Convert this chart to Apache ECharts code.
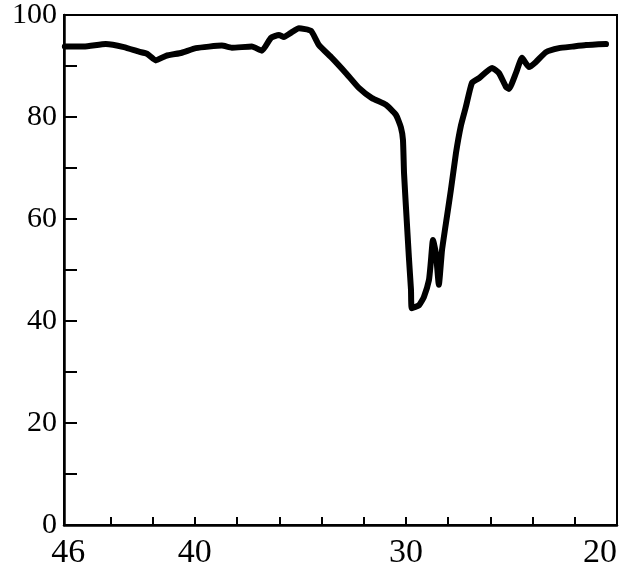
<!DOCTYPE html>
<html>
<head>
<meta charset="utf-8">
<script src="https://cdn.jsdelivr.net/npm/echarts@6/dist/echarts.min.js"></script>
<style>html,body{margin:0;padding:0;background:#fff;}#c{width:635px;height:586px;}</style>
</head>
<body>
<div id="c"></div>
<script>
const xValues = [46.16,45.26,44.22,43.36,42.65,42.27,41.85,41.37,40.62,39.95,38.72,38.25,37.30,36.82,36.40,36.02,35.78,35.45,35.07,34.50,34.12,33.51,32.84,32.23,31.61,30.95,30.47,30.24,30.14,30.09,30.00,29.86,29.76,29.72,29.38,29.15,28.91,28.82,28.72,28.58,28.44,28.29,28.06,27.87,27.63,27.39,27.16,26.87,26.54,25.92,25.59,25.26,25.12,24.79,24.50,24.17,23.84,23.37,22.75,22.13,21.47,20.52];
const yValues = [93.8,93.8,94.3,93.7,92.8,92.4,91.1,92.0,92.6,93.5,94.0,93.6,93.8,93.0,95.5,96.1,95.7,96.5,97.4,96.9,94.1,91.6,88.6,85.7,83.7,82.4,80.4,78.0,75.5,69.0,62.4,52.5,46.1,42.5,43.1,44.7,48.0,51.6,55.9,53.3,47.1,53.9,60.4,65.7,72.9,78.4,82.0,86.7,87.6,89.6,88.6,85.9,85.5,88.6,91.6,89.8,90.8,92.7,93.5,93.8,94.1,94.3];
const xLabelValues = [46, 40, 30, 20];
const xTickValues = [44, 42, 40, 38, 36, 34, 32, 30, 28, 26, 24, 22];
const yLabelStep = 20;

const seriesData = xValues.map((x, i) => [x, yValues[i]]);
const chart = echarts.init(document.getElementById('c'), null, {renderer: 'canvas'});
chart.setOption({
  animation: false,
  backgroundColor: '#fff',
  grid: {left: 64, right: 18, top: 15, bottom: 61, show: true, borderColor: '#000', borderWidth: 2, backgroundColor: 'transparent'},
  xAxis: {
    type: 'value', min: 20, max: 46.2, inverse: true,
    axisLine: {show: true, onZero: false, lineStyle: {color: '#000', width: 2.5}},
    axisTick: {show: true, inside: true, length: 8, customValues: xTickValues, lineStyle: {color: '#000', width: 2}},
    axisLabel: {customValues: xLabelValues, color: '#000', fontFamily: 'Liberation Serif', fontSize: 34, margin: 11, showMinLabel: true, showMaxLabel: true, alignMaxLabel: 'right'},
    splitLine: {show: false}
  },
  yAxis: {
    type: 'value', min: 0, max: 100, interval: 10,
    axisLine: {show: true, lineStyle: {color: '#000', width: 2.5}},
    axisTick: {show: true, inside: true, length: 13, lineStyle: {color: '#000', width: 2}},
    axisLabel: {color: '#000', fontFamily: 'Liberation Serif', fontSize: 30, margin: 7,
      formatter: v => (v % yLabelStep === 0 ? String(v) : '')},
    splitLine: {show: false}
  },
  series: [{
    type: 'line', data: seriesData, showSymbol: false, symbol: 'none', smooth: 0.15,
    lineStyle: {color: '#000', width: 6, join: 'round', cap: 'round'}
  }]
});
</script>
</body>
</html>
